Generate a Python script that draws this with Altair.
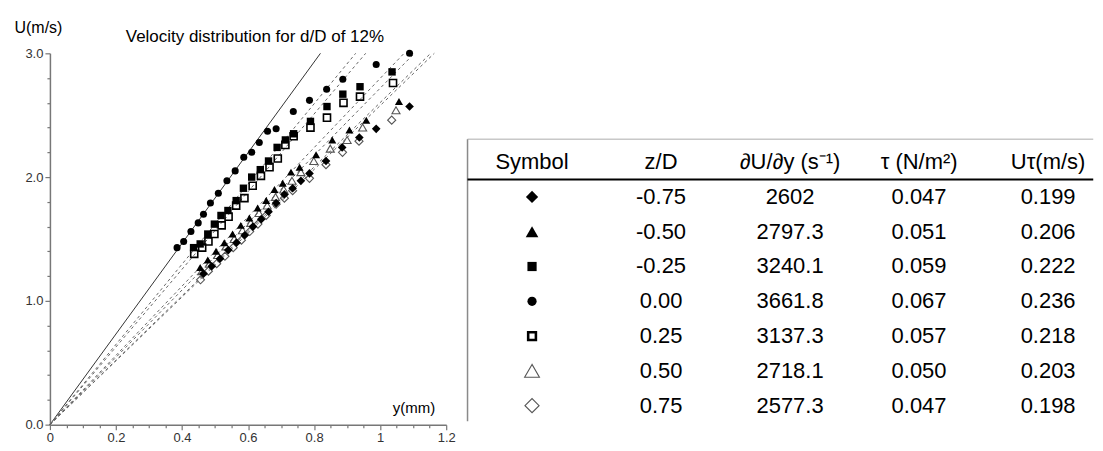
import altair as alt
import pandas as pd

FONT = "Liberation Sans"

# ---------------- measured velocity profiles (y in mm, U in m/s) ----------------
zd_m075_y = [0.465, 0.490, 0.515, 0.540, 0.565, 0.590, 0.615, 0.640, 0.662, 0.685, 0.710, 0.735, 0.760, 0.786, 0.836, 0.885, 0.937, 0.988, 1.089]
zd_m075_u = [1.22, 1.28, 1.34, 1.41, 1.47, 1.53, 1.60, 1.66, 1.72, 1.79, 1.86, 1.91, 1.97, 2.03, 2.13, 2.24, 2.32, 2.39, 2.57]

zd_m050_y = [0.455, 0.478, 0.503, 0.528, 0.553, 0.578, 0.604, 0.629, 0.655, 0.680, 0.705, 0.730, 0.756, 0.806, 0.855, 0.907, 0.958, 1.057]
zd_m050_u = [1.27, 1.33, 1.40, 1.47, 1.54, 1.61, 1.67, 1.75, 1.81, 1.90, 1.95, 2.04, 2.08, 2.18, 2.30, 2.38, 2.46, 2.61]

zd_m025_y = [0.435, 0.455, 0.478, 0.498, 0.518, 0.539, 0.564, 0.586, 0.611, 0.637, 0.662, 0.688, 0.713, 0.738, 0.789, 0.839, 0.887, 0.939, 1.036]
zd_m025_u = [1.43, 1.46, 1.54, 1.62, 1.69, 1.73, 1.81, 1.91, 2.00, 2.06, 2.13, 2.24, 2.30, 2.35, 2.45, 2.57, 2.67, 2.73, 2.85]

zd_000_y = [0.385, 0.405, 0.427, 0.449, 0.465, 0.486, 0.510, 0.536, 0.561, 0.587, 0.611, 0.634, 0.659, 0.685, 0.737, 0.786, 0.838, 0.887, 0.988, 1.089]
zd_000_u = [1.43, 1.48, 1.56, 1.63, 1.70, 1.79, 1.87, 1.97, 2.05, 2.16, 2.20, 2.28, 2.37, 2.39, 2.53, 2.62, 2.71, 2.79, 2.91, 3.00]

zd_p025_y = [0.437, 0.461, 0.480, 0.498, 0.520, 0.541, 0.564, 0.589, 0.614, 0.639, 0.665, 0.690, 0.713, 0.738, 0.789, 0.839, 0.889, 0.939, 1.039]
zd_p025_u = [1.38, 1.43, 1.48, 1.54, 1.61, 1.68, 1.77, 1.83, 1.93, 2.01, 2.08, 2.15, 2.26, 2.33, 2.40, 2.48, 2.60, 2.65, 2.76]

zd_p050_y = [0.460, 0.483, 0.508, 0.533, 0.558, 0.583, 0.608, 0.633, 0.658, 0.683, 0.708, 0.733, 0.760, 0.799, 0.849, 0.900, 0.947, 1.048]
zd_p050_u = [1.24, 1.30, 1.37, 1.44, 1.50, 1.57, 1.63, 1.71, 1.77, 1.84, 1.90, 1.97, 2.04, 2.13, 2.23, 2.30, 2.40, 2.54]

zd_p075_y = [0.456, 0.480, 0.505, 0.530, 0.555, 0.580, 0.605, 0.630, 0.655, 0.685, 0.710, 0.735, 0.786, 0.836, 0.886, 0.936, 1.035]
zd_p075_u = [1.17, 1.24, 1.30, 1.36, 1.43, 1.49, 1.56, 1.62, 1.69, 1.78, 1.83, 1.89, 1.99, 2.10, 2.20, 2.29, 2.46]

# ---------------- table ----------------
table_headers = ["Symbol", "z/D", "∂U/∂y (s⁻¹)", "τ (N/m²)", "Uτ(m/s)"]
z_over_D = ["-0.75", "-0.50", "-0.25", "0.00", "0.25", "0.50", "0.75"]
gradient = ["2602", "2797.3", "3240.1", "3661.8", "3137.3", "2718.1", "2577.3"]
tau_wall = ["0.047", "0.051", "0.059", "0.067", "0.057", "0.050", "0.047"]
u_tau = ["0.199", "0.206", "0.222", "0.236", "0.218", "0.203", "0.198"]

# ---------------- axes ----------------
x_ticks = [0, 0.05, 0.1, 0.15, 0.2, 0.25, 0.3, 0.35, 0.4, 0.45, 0.5, 0.55, 0.6,
           0.65, 0.7, 0.75, 0.8, 0.85, 0.9, 0.95, 1.0, 1.05, 1.1, 1.15, 1.2]
y_ticks = [0, 0.2, 0.4, 0.6, 0.8, 1.0, 1.2, 1.4, 1.6, 1.8, 2.0, 2.2, 2.4, 2.6, 2.8, 3.0]
X_MAX = 1.2
U_MAX = 3.0

series_xy = {
    "-0.75": (zd_m075_y, zd_m075_u),
    "-0.50": (zd_m050_y, zd_m050_u),
    "-0.25": (zd_m025_y, zd_m025_u),
    "0.00": (zd_000_y, zd_000_u),
    "0.25": (zd_p025_y, zd_p025_u),
    "0.50": (zd_p050_y, zd_p050_u),
    "0.75": (zd_p075_y, zd_p075_u),
}

# marker styles: shape, filled, colour, plot size, table size, stroke width
styles = {
    "-0.75": ("diamond", True, "#000000", 75, 150, 1),
    "-0.50": ("triangle-up", True, "#000000", 65, 160, 1),
    "-0.25": ("square", True, "#000000", 55, 85, 1),
    "0.00": ("circle", True, "#000000", 50, 85, 1),
    "0.25": ("square", False, "#000000", 50, 60, 1.6),
    "0.50": ("triangle-up", False, "#555555", 65, 220, 1.1),
    "0.75": ("diamond", False, "#555555", 65, 200, 1.1),
}

major_x = "abs(datum.value*5 - round(datum.value*5)) < 0.001"
major_y = "abs(datum.value - round(datum.value)) < 0.001"

X = alt.X("y:Q", scale=alt.Scale(domain=[0, X_MAX], nice=False),
          axis=alt.Axis(values=x_ticks, grid=False,
                        labelExpr=f"{major_x} ? format(datum.value, '~g') : ''",
                        tickSize={"condition": {"test": major_x, "value": 5}, "value": 3},
                        title="y(mm)", titleAngle=0, titleX=343, titleY=-17,
                        titleAlign="left", titleBaseline="middle",
                        titleFontSize=15, titleFontWeight="normal", titleColor="#000000"))
Y = alt.Y("U:Q", scale=alt.Scale(domain=[0, U_MAX], nice=False),
          axis=alt.Axis(values=y_ticks, grid=False,
                        labelExpr=f"{major_y} ? format(datum.value, '.1f') : ''",
                        tickSize={"condition": {"test": major_y, "value": 5}, "value": 3},
                        title="U(m/s)", titleAngle=0, titleX=-36, titleY=-26,
                        titleAlign="left", titleBaseline="middle",
                        titleFontSize=16, titleFontWeight="normal", titleColor="#000000"))

# linear near-wall fits: U = (dU/dy) * y, drawn from the wall up to the top of the axis
line_rows = []
for zd, g in zip(z_over_D, gradient):
    slope = float(g) / 1000.0  # (m/s) per mm
    line_rows.append({"series": zd, "y": 0.0, "U": 0.0})
    line_rows.append({"series": zd, "y": U_MAX / slope, "U": U_MAX})
lines_df = pd.DataFrame(line_rows)

solid = alt.Chart(lines_df).transform_filter(alt.datum.series == "0.00").mark_line(
    color="#333333", strokeWidth=1).encode(x=X, y=Y, detail="series:N")
dashed = alt.Chart(lines_df).transform_filter(alt.datum.series != "0.00").mark_line(
    color="#666666", strokeWidth=1, strokeDash=[3, 3]).encode(x=X, y=Y, detail="series:N")

plot_layers = [solid, dashed]
for zd in ["0.75", "0.50", "-0.75", "-0.50", "0.25", "-0.25", "0.00"]:
    ys, us = series_xy[zd]
    shape, filled, col, psize, tsize, sw = styles[zd]
    df = pd.DataFrame({"y": ys, "U": us, "series": zd})
    if filled:
        mk = alt.Chart(df).mark_point(shape=shape, filled=True, color=col, size=psize, opacity=1)
    else:
        mk = alt.Chart(df).mark_point(shape=shape, filled=False, color=col, size=psize,
                                      strokeWidth=sw, opacity=1)
    plot_layers.append(mk.encode(x=X, y=Y))

plot = alt.layer(*plot_layers)

# ---------------- table layer ----------------
TX = alt.Scale(domain=[0, 4], range=[483, 1000])
TY = alt.Scale(domain=[0, 7], range=[109, 353])

hdr_df = pd.DataFrame({"col": list(range(len(table_headers))), "row": 0, "txt": table_headers})
body_rows = []
for i in range(len(z_over_D)):
    for c, vals in enumerate([z_over_D, gradient, tau_wall, u_tau], start=1):
        body_rows.append({"col": c, "row": i + 1, "txt": vals[i]})
body_df = pd.DataFrame(body_rows)

tx = alt.X("col:Q", scale=TX, axis=None)
ty = alt.Y("row:Q", scale=TY, axis=None)

hdr = alt.Chart(hdr_df).mark_text(font=FONT, fontSize=22, fontWeight="normal", color="#000000",
                                  baseline="middle", align="center").encode(x=tx, y=ty, text="txt:N")
body = alt.Chart(body_df).mark_text(font=FONT, fontSize=22, color="#000000",
                                    baseline="middle", align="center").encode(x=tx, y=ty, text="txt:N")

rule_df = pd.DataFrame({"col": [-0.5], "col2": [4.35], "row": [-0.66], "row2": [7.45], "hline": [0.5]})
top_border = alt.Chart(rule_df).mark_rule(color="#c8c8c8", strokeWidth=1.5).encode(
    x=tx, x2="col2:Q", y=ty)
left_border = alt.Chart(rule_df).mark_rule(color="#8a8a8a", strokeWidth=1.5).encode(
    x=tx, y=ty, y2="row2:Q")
head_line = alt.Chart(rule_df).mark_rule(color="#000000", strokeWidth=2).encode(
    x=tx, x2="col2:Q", y=alt.Y("hline:Q", scale=TY, axis=None))

table_layers = [top_border, left_border, head_line, hdr, body]
for i, zd in enumerate(z_over_D):
    shape, filled, col, psize, tsize, sw = styles[zd]
    df = pd.DataFrame({"col": [0], "row": [i + 1]})
    if filled:
        mk = alt.Chart(df).mark_point(shape=shape, filled=True, color=col, size=tsize, opacity=1)
    else:
        mk = alt.Chart(df).mark_point(shape=shape, filled=False, color=col, size=tsize,
                                      strokeWidth=sw * (1.6 if zd == "0.25" else 1.0), opacity=1)
    table_layers.append(mk.encode(x=tx, y=ty))

table = alt.layer(*table_layers)

chart = alt.layer(plot, table).resolve_scale(x="independent", y="independent").properties(
    width=397, height=372,
    padding={"left": 6, "top": 11, "right": 0, "bottom": 0},
    title=alt.TitleParams("Velocity distribution for d/D of 12%", anchor="start", frame="group",
                          dx=76, dy=51, offset=7, baseline="bottom", fontSize=17, fontWeight="normal",
                          font=FONT, color="#000000"),
).configure_view(stroke=None).configure_axis(
    labelFont=FONT, titleFont=FONT, labelFontSize=13, labelColor="#333333",
    domainColor="#777777", domainWidth=1.5, tickColor="#777777", tickWidth=1.2,
    labelPadding=2, labelFlush=False,
)

chart.save("out.html", embed_options={"renderer": "svg", "actions": False})
